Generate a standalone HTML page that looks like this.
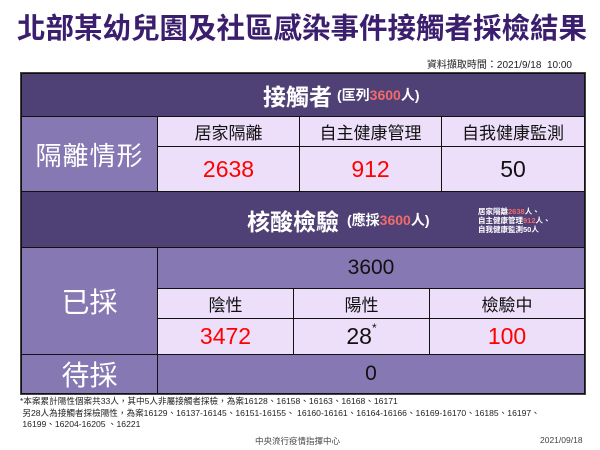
<!DOCTYPE html>
<html><head><meta charset="utf-8"><style>
body{margin:0;width:600px;height:450px;background:#fff;font-family:"Liberation Sans","Noto Sans CJK TC",sans-serif;position:relative;overflow:hidden}
.a{position:absolute;box-sizing:border-box}
.c{display:flex;align-items:center;justify-content:center;border:1px solid #111}
.d{background:#4f4176;color:#fff}
.m{background:#8678b3;color:#fff}
.l{background:#eddff9;color:#111}
.r{color:#f00}
</style></head><body>
<div class="a" style="left:0;width:604px;top:6px;text-align:center;font-size:28.5px;font-weight:bold;color:#3b1e6e">北部某幼兒園及社區感染事件接觸者採檢結果</div>
<div class="a" style="left:380px;top:56px;width:192px;text-align:right;font-size:10px;color:#222">資料擷取時間：2021/9/18&nbsp; 10:00</div>
<div class="a" style="left:20px;top:72px;width:566px;height:323px;border:2px solid #444;background:#4f4176"></div>
<div class="a c d" style="left:21px;top:73px;width:564px;height:44px;justify-content:flex-start;padding-left:241px"><span style="font-size:23px;font-weight:bold">接觸者</span><span style="font-size:14px;font-weight:bold;margin-left:5px">(匡列<span style="color:#f26b6b">3600</span>人)</span></div>
<div class="a c m" style="left:21px;top:116px;width:137px;height:76px;font-size:26px;letter-spacing:1px">隔離情形</div>
<div class="a c l" style="left:157px;top:116px;width:143px;height:31px;font-size:17px">居家隔離</div>
<div class="a c l" style="left:299px;top:116px;width:143px;height:31px;font-size:17px">自主健康管理</div>
<div class="a c l" style="left:441px;top:116px;width:144px;height:31px;font-size:17px">自我健康監測</div>
<div class="a c l r" style="left:157px;top:146px;width:143px;height:46px;font-size:23px">2638</div>
<div class="a c l r" style="left:299px;top:146px;width:143px;height:46px;font-size:23px">912</div>
<div class="a c l" style="left:441px;top:146px;width:144px;height:46px;font-size:23px">50</div>
<div class="a c d" style="left:21px;top:191px;width:564px;height:57px;justify-content:flex-start;padding-left:225px"><span style="font-size:23px;font-weight:bold">核酸檢驗</span><span style="font-size:14px;font-weight:bold;margin-left:8px">(應採<span style="color:#f26b6b">3600</span>人)</span></div>
<div class="a" style="left:478px;top:207px;font-size:7.5px;line-height:9px;color:#fff;font-weight:bold">居家隔離<span style="color:#f26b6b">2638</span>人、<br>自主健康管理<span style="color:#f26b6b">912</span>人、<br>自我健康監測50人</div>
<div class="a c m" style="left:21px;top:247px;width:137px;height:108px;font-size:28px">已採</div>
<div class="a c m" style="left:157px;top:247px;width:428px;height:42px;font-size:21px;color:#111">3600</div>
<div class="a c l" style="left:157px;top:288px;width:137px;height:31px;font-size:17px">陰性</div>
<div class="a c l" style="left:293px;top:288px;width:137px;height:31px;font-size:17px">陽性</div>
<div class="a c l" style="left:429px;top:288px;width:156px;height:31px;font-size:17px">檢驗中</div>
<div class="a c l r" style="left:157px;top:318px;width:137px;height:37px;font-size:23px">3472</div>
<div class="a c l" style="left:293px;top:318px;width:137px;height:37px;font-size:23px">28<sup style="font-size:12px;align-self:flex-start;margin-top:2px">*</sup></div>
<div class="a c l r" style="left:429px;top:318px;width:156px;height:37px;font-size:23px">100</div>
<div class="a c m" style="left:21px;top:354px;width:137px;height:40px;font-size:28px">待採</div>
<div class="a c m" style="left:157px;top:354px;width:428px;height:40px;font-size:21px;color:#111">0</div>
<div class="a" style="left:20px;top:396px;font-size:8.6px;line-height:11.5px;color:#222;white-space:nowrap">*本案累計陽性個案共33人，其中5人非屬接觸者採檢，為案16128、16158、16163、16168、16171<br>&nbsp;另28人為接觸者採檢陽性，為案16129、16137-16145、16151-16155、 16160-16161、16164-16166、16169-16170、16185、16197、<br>&nbsp;16199、16204-16205 、16221</div>
<div class="a" style="left:255px;top:435px;font-size:8.5px;color:#444">中央流行疫情指揮中心</div>
<div class="a" style="left:540px;top:435px;font-size:8.5px;color:#444">2021/09/18</div>
</body></html>
